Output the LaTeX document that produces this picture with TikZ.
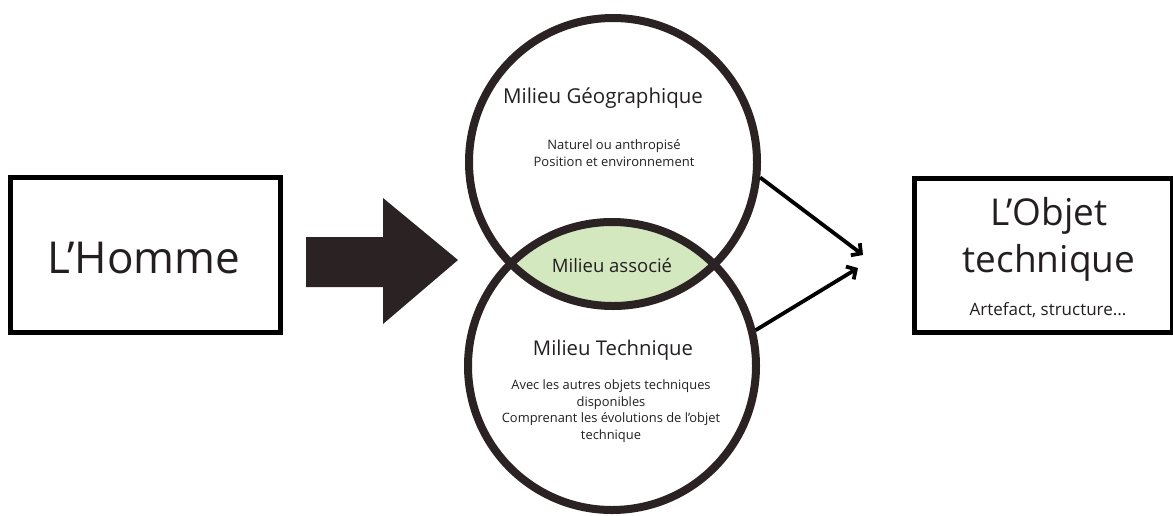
\documentclass[tikz,border=0pt]{standalone}
\usepackage{fontspec}
\setmainfont{Open Sans}
\usetikzlibrary{arrows.meta}
\definecolor{ink}{RGB}{43,35,35}
\definecolor{txt}{RGB}{35,31,32}
\definecolor{lens}{RGB}{212,232,192}
\tikzset{
  box/.style={draw=black,line width=5pt,fill=white,inner sep=0pt},
  ring/.style={circle,draw=ink,line width=8pt,minimum size=288pt,inner sep=0pt},
  link/.style={line width=3.8pt,-{Straight Barb[length=7pt,width=15pt,line width=3.8pt]}},
  lbl/.style={text=txt,align=center,inner sep=0pt},
}
\begin{document}
\begin{tikzpicture}[x=1pt,y=-1pt]
\useasboundingbox (0,0) rectangle (1173,515);
% L'Homme
\node[box,minimum width=270pt,minimum height=155pt] (homme) at (145,255) {};
\node[lbl,font=\fontsize{44}{50}\selectfont] (hommet) at (144,258) {L’Homme};
% big arrow
\fill[ink] (306,237) -- (383,237) -- (383,198) -- (458,260) -- (383,324) -- (383,287) -- (306,287) -- cycle;
% lens
\begin{scope}
  \clip (613,162) circle (144);
  \fill[lens] (612,366) circle (144);
\end{scope}
\node[ring] (geo) at (613,162) {};
\node[ring] (tech) at (612,366) {};
\node[lbl,font=\fontsize{18.5}{22}\selectfont] (assoc) at (612,265) {Milieu associé};
% texts top
\node[lbl,font=\fontsize{20.5}{24}\selectfont] (geot) at (603,98) {Milieu Géographique};
\node[lbl,font=\fontsize{13}{17}\selectfont] (geos) at (614,153) {Naturel ou anthropisé\\Position et environnement};
% texts bottom
\node[lbl,font=\fontsize{20.3}{24}\selectfont] (techt) at (613,350) {Milieu Technique};
\node[lbl,font=\fontsize{12.9}{16.7}\selectfont] (techs) at (611,411) {Avec les autres objets techniques\\disponibles\\Comprenant les évolutions de l’objet\\technique};
% right box
\node[box,minimum width=258pt,minimum height=154pt] (objet) at (1043,255) {};
\node[lbl,font=\fontsize{37}{42}\selectfont,anchor=base] (objet1) at (1049,225) {L’Objet};
\node[lbl,font=\fontsize{37}{42}\selectfont,anchor=base] (objet2) at (1049,272) {technique};
\node[lbl,font=\fontsize{17}{20}\selectfont,anchor=base] (objets) at (1048,315) {Artefact, structure...};
% arrows
\coordinate (t1) at (863,255);
\coordinate (t2) at (858,268);
\draw[link] (geo.-6) -- (t1);
\draw[link] (tech.14) -- (t2);
\end{tikzpicture}
\end{document}
